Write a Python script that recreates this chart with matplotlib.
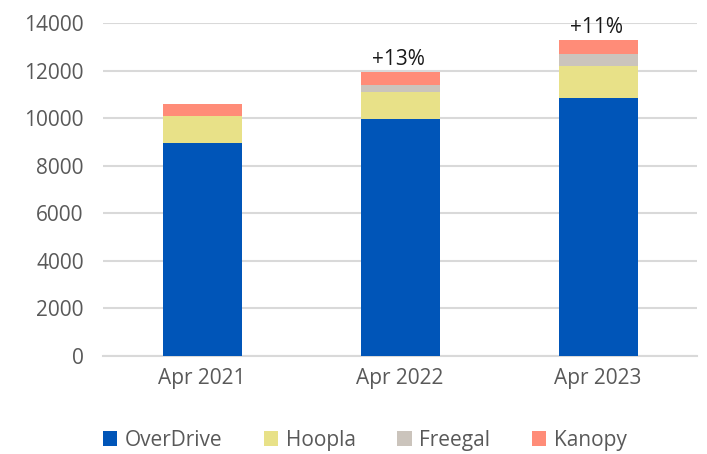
import matplotlib.pyplot as plt
import numpy as np

plt.rcParams['font.family'] = ['Open Sans', 'DejaVu Sans']

years = ['Apr 2021', 'Apr 2022', 'Apr 2023']
overdrive = [8975, 9960, 10830]
hoopla = [1100, 1125, 1350]
freegal = [0, 310, 520]
kanopy = [520, 535, 590]
growth = ['', '+13%', '+11%']

series = [('OverDrive', overdrive, '#0055b8'),
          ('Hoopla', hoopla, '#e8e188'),
          ('Freegal', freegal, '#cbc4bc'),
          ('Kanopy', kanopy, '#ff8c78')]

fig = plt.figure(figsize=(7.07, 4.54), dpi=100)
ax = fig.add_axes([0.146, 0.2159, 0.840, 0.7334])

x = np.arange(len(years))
bottom = np.zeros(len(years))
for name, vals, col in series:
    ax.bar(x, vals, 0.4, bottom=bottom, color=col, label=name, zorder=3)
    bottom += np.array(vals)

for i, txt in enumerate(growth):
    if txt:
        ax.text(x[i] - 0.01, bottom[i] + 80, txt, ha='center', va='bottom',
                fontsize=15, color='#1a1a1a', zorder=4)

ax.set_xlim(-0.5, 2.5)
ax.set_ylim(0, 14000)
ax.set_yticks(range(0, 14001, 2000))
ax.set_xticks(x)
ax.set_xticklabels(years)
ax.grid(axis='y', color='#d9d9d9', linewidth=1.5, zorder=0)
for s in ['left', 'right', 'top']:
    ax.spines[s].set_visible(False)
ax.spines['bottom'].set_color('#d9d9d9')
ax.spines['bottom'].set_linewidth(1.5)
ax.tick_params(axis='both', length=0, labelsize=15, labelcolor='#595959')
ax.tick_params(axis='y', pad=14)
ax.tick_params(axis='x', pad=9)

ax.legend(loc='upper center', bbox_to_anchor=(0.44, -0.165), ncol=4, frameon=False,
          fontsize=15, labelcolor='#595959', handlelength=0.7, handleheight=0.7,
          handletextpad=0.35, columnspacing=2.0)

fig.savefig('out.png')
